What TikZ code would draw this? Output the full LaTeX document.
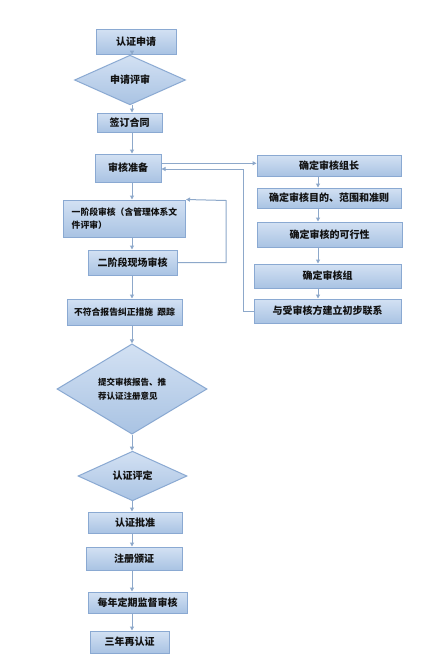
\documentclass[tikz,border=0pt]{standalone}
\usepackage{fontspec}
\setmainfont{Noto Sans CJK SC}
\usepackage{tikz}
\usetikzlibrary{arrows.meta,shapes.geometric,calc}
\definecolor{boxtop}{HTML}{D3E1F3}
\definecolor{boxbot}{HTML}{A9C3E3}
\definecolor{boxline}{HTML}{8AA9D2}
\definecolor{flowline}{HTML}{8DA8CA}
\definecolor{inkdark}{HTML}{111111}
\tikzset{
  boxy/.style    = {draw=boxline, line width=1pt, top color=boxtop, bottom color=boxbot,
                    text=inkdark, align=center, inner sep=2pt, font=\fontsize{10}{12}\selectfont\bfseries},
  decide/.style  = {diamond, draw=boxline, line width=1pt, top color=boxtop, bottom color=boxbot,
                    text=inkdark, align=center, inner sep=0pt, font=\fontsize{10}{12}\selectfont\bfseries},
  flow/.style    = {-{Triangle[length=4pt,width=4pt]}, draw=flowline, line width=1pt},
}

\begin{document}
\begin{tikzpicture}[x=1pt,y=-1pt]
    \useasboundingbox[fill=white] (0,0) rectangle (428,670);
    % main column
    \node[boxy,minimum width=80pt,minimum height=25pt] (apply) at (136,41.5) {认证申请};
    \node[decide,minimum width=111pt,minimum height=34pt] (review) at (130,80) {申请评审};
    \node[boxy,minimum width=65pt,minimum height=19pt] (contract) at (129.5,122.5) {签订合同};
    \node[boxy,minimum width=66pt,minimum height=28pt] (prep) at (128,168) {审核准备};
    \node[boxy,minimum width=122pt,minimum height=37pt,align=left,font=\fontsize{8.8}{13}\selectfont\bfseries] (stageone) at (124.5,218.5) {一阶段审核（含管理体系文\\件评审）};
    \node[boxy,minimum width=89pt,minimum height=25pt] (stagetwo) at (132.5,262.5) {二阶段现场审核};
    \node[boxy,minimum width=115pt,minimum height=26pt,font=\fontsize{8.8}{11}\selectfont\bfseries] (ncr) at (124.5,312) {不符合报告纠正措施\ \ 跟踪};
    \node[decide,minimum width=150pt,minimum height=78pt,align=left,font=\fontsize{8.5}{14}\selectfont\bfseries] (submit) at (132,389) {提交审核报告、推\\荐认证注册意见};
    \node[decide,minimum width=109pt,minimum height=34pt] (evaluate) at (132.5,476) {认证评定};
    \node[boxy,minimum width=94pt,minimum height=21pt] (approve) at (135,522.5) {认证批准};
    \node[boxy,minimum width=96pt,minimum height=23pt] (register) at (134,558.5) {注册颁证};
    \node[boxy,minimum width=99pt,minimum height=21pt] (annual) at (137.5,602.5) {每年定期监督审核};
    \node[boxy,minimum width=79pt,minimum height=22pt] (recert) at (129.5,642) {三年再认证};
    % preparation column
    \node[boxy,minimum width=144pt,minimum height=21pt] (leader) at (329,165.5) {确定审核组长};
    \node[boxy,minimum width=144pt,minimum height=20pt] (scope) at (329,198) {确定审核目的、范围和准则};
    \node[boxy,minimum width=145pt,minimum height=25pt] (feasible) at (329.5,234.5) {确定审核的可行性};
    \node[boxy,minimum width=147pt,minimum height=24pt] (team) at (327.5,276) {确定审核组};
    \node[boxy,minimum width=147pt,minimum height=24pt] (contact) at (327.5,311) {与受审核方建立初步联系};
    \coordinate (axis) at (132,0);
    \coordinate (raxis) at (318,0);
    \coordinate (loop) at (226,200.5);
    \coordinate (back) at (243,169);
    % main flow
    \foreach \a/\b in {apply/review,review/contract,contract/prep,prep/stageone,stageone/stagetwo,
                       stagetwo/ncr,ncr/submit,submit/evaluate,evaluate/approve,approve/register,
                       register/annual,annual/recert}
      \draw[flow] (\a.south -| axis) -- (\b.north -| axis);
    \foreach \a/\b in {leader/scope,scope/feasible,feasible/team,team/contact}
      \draw[flow] (\a.south -| raxis) -- (\b.north -| raxis);
    % side links
    \draw[flow] (prep.east |- 0,163.3) -- (leader.west |- 0,163.3);
    \draw[flow] (contact.west) -| (back) -- (prep.east |- back);
    \draw[flow] (stagetwo.east) -| (loop) -- (stageone.north east);
  \end{tikzpicture}
\end{document}
